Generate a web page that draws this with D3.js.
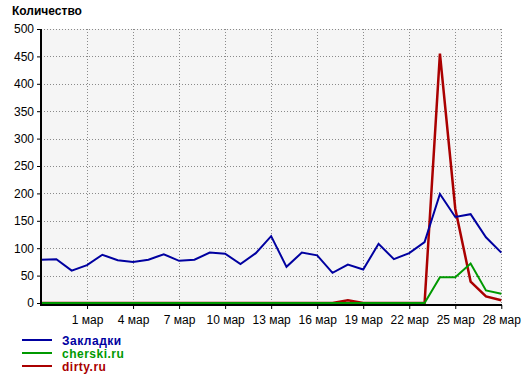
<!DOCTYPE html>
<html>
<head>
<meta charset="utf-8">
<script src="https://cdn.jsdelivr.net/npm/d3@7"></script>
<style>
  body { margin: 0; background: #fff; }
  svg { display: block; font-family: "Liberation Sans", Arial, sans-serif; }
</style>
</head>
<body>
<div id="chart"></div>
<script>
// Days on the x axis (one point per day)
var days = ["2009-02-26", "2009-02-27", "2009-02-28",
  "2009-03-01", "2009-03-02", "2009-03-03", "2009-03-04", "2009-03-05", "2009-03-06",
  "2009-03-07", "2009-03-08", "2009-03-09", "2009-03-10", "2009-03-11", "2009-03-12",
  "2009-03-13", "2009-03-14", "2009-03-15", "2009-03-16", "2009-03-17", "2009-03-18",
  "2009-03-19", "2009-03-20", "2009-03-21", "2009-03-22", "2009-03-23", "2009-03-24",
  "2009-03-25", "2009-03-26", "2009-03-27", "2009-03-28"];

// Series values
var zakladki = [79, 80, 59, 69, 88, 78, 75, 79, 89, 77, 79, 92, 90, 71, 91, 122,
  66, 92, 87, 55, 70, 61, 108, 80, 91, 111, 199, 157, 162, 120, 92];
var cherski = [0, 0, 0, 0, 0, 0, 0, 0, 0, 0, 0, 0, 0, 0, 0, 0,
  0, 0, 0, 0, 0, 0, 0, 0, 0, 0, 47, 47, 72, 23, 17];
var dirty = [0, 0, 0, 0, 0, 0, 0, 0, 0, 0, 0, 0, 0, 0, 0, 0,
  0, 0, 0, 0, 5, 0, 0, 0, 0, 0, 455, 172, 39, 12, 5];

// Tick labels
var xTickDays = ["2009-03-01", "2009-03-04", "2009-03-07", "2009-03-10", "2009-03-13",
  "2009-03-16", "2009-03-19", "2009-03-22", "2009-03-25", "2009-03-28"];
var xTickLabels = ["1 мар", "4 мар", "7 мар", "10 мар", "13 мар", "16 мар",
  "19 мар", "22 мар", "25 мар", "28 мар"];
var yTicks = [0, 50, 100, 150, 200, 250, 300, 350, 400, 450, 500];

var seriesNames = ["Закладки", "cherski.ru", "dirty.ru"];
var seriesColors = ["#0000a0", "#009900", "#aa0000"];

var W = 528, H = 381;
var plot = {left: 41, right: 501.3, top: 29, bottom: 303};

var parse = d3.timeParse("%Y-%m-%d");
var dates = days.map(parse);

var x = d3.scaleTime().domain([dates[0], dates[dates.length - 1]]).range([plot.left, plot.right]);
var y = d3.scaleLinear().domain([0, 500]).range([plot.bottom, plot.top]);

var svg = d3.select("#chart").append("svg")
  .attr("width", W).attr("height", H);

// title
svg.append("text")
  .attr("x", 12).attr("y", 15)
  .style("font-size", "12px").style("font-weight", "bold")
  .text("Количество");

// plot background
svg.append("rect")
  .attr("x", plot.left).attr("y", plot.top)
  .attr("width", plot.right - plot.left + 0.5).attr("height", plot.bottom - plot.top + 1)
  .attr("fill", "#f5f5f5");

// grid
svg.append("g").selectAll("line")
  .data(yTicks.filter(function(d) { return d > 0; }))
  .join("line")
  .attr("x1", plot.left).attr("x2", plot.right)
  .attr("y1", function(d) { return Math.round(y(d)) + 0.5; })
  .attr("y2", function(d) { return Math.round(y(d)) + 0.5; })
  .attr("stroke", "#8a8a8a").attr("stroke-dasharray", "1,2");

svg.append("g").selectAll("line")
  .data(xTickDays.map(parse))
  .join("line")
  .attr("x1", function(d) { return Math.round(x(d)) + 0.5; })
  .attr("x2", function(d) { return Math.round(x(d)) + 0.5; })
  .attr("y1", plot.top).attr("y2", plot.bottom)
  .attr("stroke", "#8a8a8a").attr("stroke-dasharray", "1,2");

// lines (red under green so the zero line shows green)
var line = d3.line()
  .x(function(d, i) { return x(dates[i]); })
  .y(function(d) { return y(d); });

var drawOrder = [2, 1, 0];
var allSeries = [zakladki, cherski, dirty];
drawOrder.forEach(function(k) {
  svg.append("path")
    .datum(allSeries[k])
    .attr("d", line)
    .attr("fill", "none")
    .attr("stroke", seriesColors[k])
    .attr("stroke-width", k == 2 ? 2.5 : 2)
    .attr("stroke-linejoin", "miter");
});

// axes
var yAxis = svg.append("g")
  .attr("transform", "translate(" + plot.left + ",0)")
  .call(d3.axisLeft(y).tickValues(yTicks).tickSize(4).tickPadding(3));
yAxis.select(".domain").remove();
yAxis.selectAll("text").style("font-size", "12px").attr("fill", "#000");
yAxis.selectAll("line").attr("stroke", "#000");

var xAxis = svg.append("g")
  .attr("transform", "translate(0," + (plot.bottom + 2) + ")")
  .call(d3.axisBottom(x).tickValues(xTickDays.map(parse)).tickSize(4).tickPadding(6)
    .tickFormat(function(d, i) { return xTickLabels[i]; }));
xAxis.select(".domain").remove();
xAxis.selectAll("text").style("font-size", "12px").attr("fill", "#000");
xAxis.selectAll("line").attr("stroke", "#000");

svg.append("line")
  .attr("x1", plot.left).attr("x2", plot.left)
  .attr("y1", plot.top).attr("y2", plot.bottom + 3)
  .attr("stroke", "#000").attr("stroke-width", 2);
svg.append("line")
  .attr("x1", plot.left - 1).attr("x2", plot.right + 0.7)
  .attr("y1", plot.bottom + 2).attr("y2", plot.bottom + 2)
  .attr("stroke", "#000").attr("stroke-width", 2);

// legend
var legend = svg.append("g").selectAll("g")
  .data(seriesNames)
  .join("g")
  .attr("transform", function(d, i) { return "translate(0," + (340 + i * 13) + ")"; });
legend.append("line")
  .attr("x1", 22).attr("x2", 52)
  .attr("y1", 0).attr("y2", 0)
  .attr("stroke", function(d, i) { return seriesColors[i]; })
  .attr("stroke-width", 2);
legend.append("text")
  .attr("x", 62).attr("y", 5)
  .style("font-size", "12px").style("font-weight", "bold")
  .style("letter-spacing", "0.5px")
  .attr("fill", function(d, i) { return seriesColors[i]; })
  .text(function(d) { return d; });
</script>
</body>
</html>
